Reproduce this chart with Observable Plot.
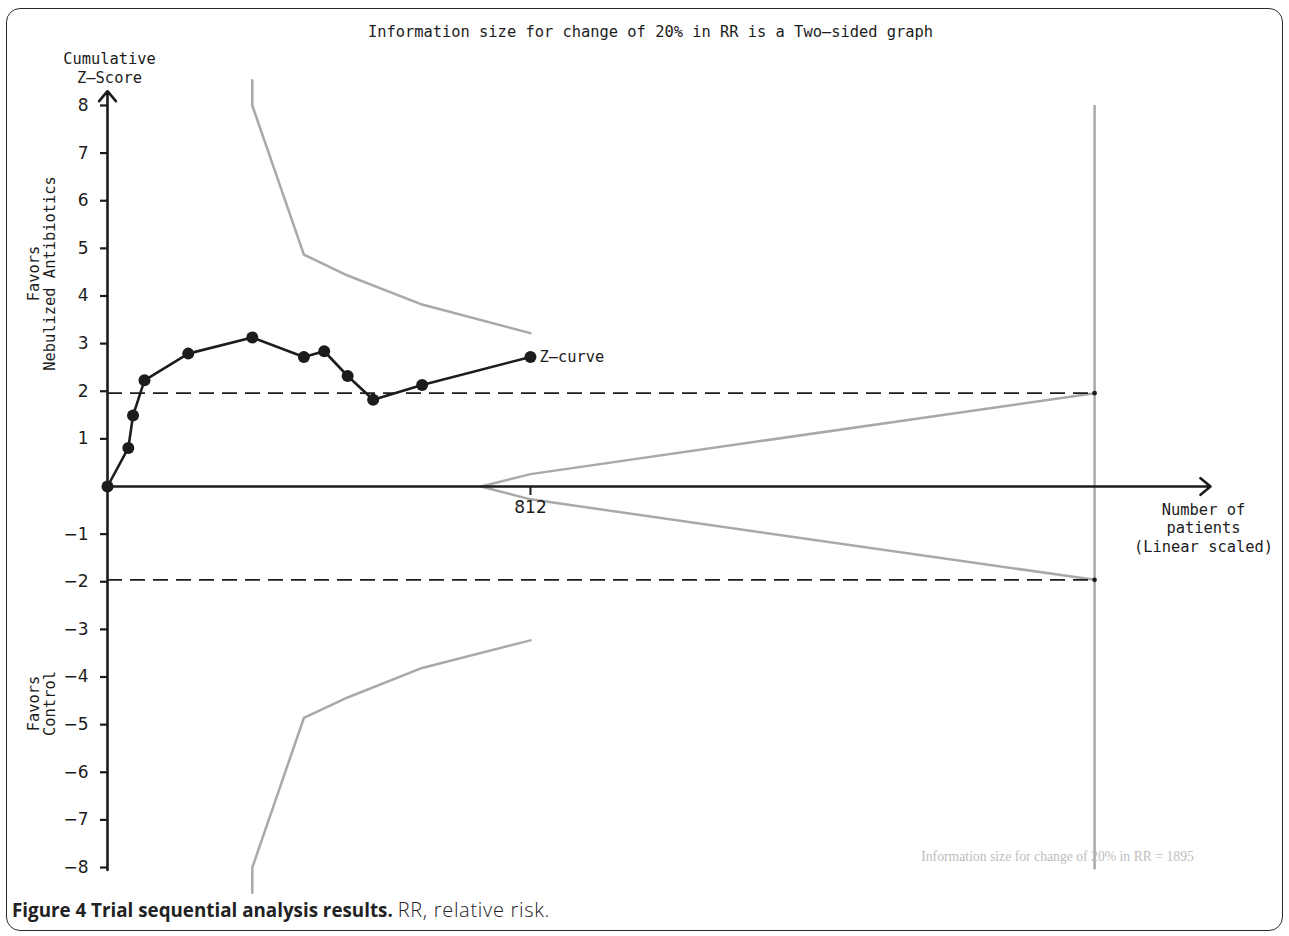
<!DOCTYPE html>
<html>
<head>
<meta charset="utf-8">
<script src="https://cdn.jsdelivr.net/npm/d3@7"></script>
<script src="https://cdn.jsdelivr.net/npm/@observablehq/plot@0.6"></script>
<style>
  html, body { margin: 0; padding: 0; background: #fff; }
  #wrap { position: relative; width: 1289px; height: 936px; overflow: hidden; }
  #border { position: absolute; left: 6px; top: 8px; width: 1277px; height: 923px; border: 1.5px solid #2a2a2a; border-radius: 14px; box-sizing: border-box; pointer-events: none; }
  #chart { position: absolute; left: 0; top: 0; }
  #caption { position: absolute; left: 12px; top: 896px; font-family: "Open Sans", sans-serif; font-size: 18.8px; color: #222; white-space: nowrap; }
  #caption b { font-weight: 700; }
  #caption span { font-weight: 300; font-size: 20px; letter-spacing: 0.7px; }
</style>
</head>
<body>
<div id="wrap">
  <div id="chart"></div>
  <div id="caption"><b>Figure 4 Trial sequential analysis results.</b> <span>RR, relative risk.</span></div>
  <div id="border"></div>
</div>
<script>
// ---- Data ----
const zPatients = [0, 40, 49, 71, 155, 278, 377, 416, 461, 510, 604, 812];
const zScores   = [0, 0.81, 1.49, 2.23, 2.79, 3.13, 2.72, 2.84, 2.32, 1.82, 2.13, 2.72];

const boundPatients = [278, 278, 377, 461, 604, 812];
const boundUpper    = [8.53, 8, 4.87, 4.43, 3.82, 3.22];
const boundLower    = [-8.53, -8, -4.86, -4.43, -3.81, -3.23];

const futPatients = [717, 812, 1895];
const futUpper    = [0, 0.26, 1.96];
const futLower    = [0, -0.27, -1.96];

const informationSize = 1895;
const conventional = [1.96, -1.96];
const yTicks = [-8, -7, -6, -5, -4, -3, -2, -1, 1, 2, 3, 4, 5, 6, 7, 8];
const xTicks = [812];

const zCurve = zPatients.map((x, i) => ({x, z: zScores[i]}));
const upper = boundPatients.map((x, i) => ({x, z: boundUpper[i]}));
const lower = boundPatients.map((x, i) => ({x, z: boundLower[i]}));
const futU = futPatients.map((x, i) => ({x, z: futUpper[i]}));
const futL = futPatients.map((x, i) => ({x, z: futLower[i]}));

const mono = "DejaVu Sans Mono, monospace";
const sans = "DejaVu Sans, sans-serif";
const gray = "#a9a9a9";
const ink = "#1c1c1c";

const plot = Plot.plot({
  width: 1289,
  height: 896,
  marginLeft: 107,
  marginRight: 79,
  marginTop: 76.4,
  marginBottom: 0.4,
  style: {fontFamily: sans, fontSize: "17px", color: ink, background: "transparent"},
  x: {domain: [0, 2117.5], axis: null},
  y: {domain: [-8.6, 8.6], axis: null},
  marks: [
    // boundaries
    Plot.line(upper, {x: "x", y: "z", stroke: gray, strokeWidth: 2.5}),
    Plot.line(lower, {x: "x", y: "z", stroke: gray, strokeWidth: 2.5}),
    Plot.line(futU, {x: "x", y: "z", stroke: gray, strokeWidth: 2.5}),
    Plot.line(futL, {x: "x", y: "z", stroke: gray, strokeWidth: 2.5}),
    Plot.ruleX([informationSize], {y1: -8.05, y2: 8, stroke: gray, strokeWidth: 2.5}),
    // conventional boundaries
    Plot.ruleY(conventional, {x1: 0, x2: informationSize, stroke: ink, strokeWidth: 1.6, strokeDasharray: "15,8"}),
    Plot.dot(conventional, {x: () => informationSize, y: d => d, r: 2.3, fill: ink, stroke: null}),
    // axes
    Plot.arrow([0], {x1: 0, y1: 0, x2: 2117.5, y2: 0, stroke: ink, strokeWidth: 2.6, headLength: 7.5, headAngle: 80, insetEnd: 0}),
    Plot.arrow([0], {x1: 0, y1: -8.05, x2: 0, y2: 8.3, stroke: ink, strokeWidth: 2.6, headLength: 7.5, headAngle: 80, insetEnd: 0}),
    Plot.axisY({ticks: yTicks, label: null, tickSize: 7, tickPadding: 12, tickFormat: d => d < 0 ? "\u2212" + Math.abs(d) : String(d), fontFamily: sans, fontSize: 17, stroke: ink, strokeWidth: 2.2, fill: ink}),
    Plot.ruleX(xTicks, {y1: 0, y2: 0, insetBottom: -9, stroke: ink, strokeWidth: 2}),
    Plot.text(xTicks, {x: d => d, y: 0, dy: 21, text: d => String(d), fontFamily: sans, fontSize: 17, fill: ink}),
    // Z-curve
    Plot.line(zCurve, {x: "x", y: "z", stroke: ink, strokeWidth: 2.6}),
    Plot.dot(zCurve, {x: "x", y: "z", r: 6, fill: ink, stroke: null}),
    Plot.text(zCurve.slice(-1), {x: "x", y: "z", text: () => "Z\u2013curve", dx: 9, textAnchor: "start", fontFamily: mono, fontSize: 15.4, fill: ink}),
    // annotations
    Plot.text(["Information size for change of 20% in RR is a Two\u2013sided graph"], {frameAnchor: "top-left", dx: 543, dy: -44.4, lineAnchor: "middle", textAnchor: "middle", text: d => d, fontFamily: mono, fontSize: 15.4, fill: ink}),
    Plot.text(["Cumulative\nZ\u2013Score"], {frameAnchor: "top-left", dx: 2, dy: -9.2, lineAnchor: "middle", textAnchor: "middle", lineHeight: 1.2, text: d => d, fontFamily: mono, fontSize: 15.4, fill: ink}),
    Plot.text(["Favors\nNebulized Antibiotics"], {frameAnchor: "top-left", dx: -66, dy: 196.6, rotate: -90, lineAnchor: "middle", textAnchor: "middle", lineHeight: 1.07, text: d => d, fontFamily: mono, fontSize: 15.4, fill: ink}),
    Plot.text(["Favors\nControl"], {frameAnchor: "top-left", dx: -66, dy: 626.6, rotate: -90, lineAnchor: "middle", textAnchor: "middle", lineHeight: 1.07, text: d => d, fontFamily: mono, fontSize: 15.4, fill: ink}),
    Plot.text(["Number of\npatients\n(Linear scaled)"], {frameAnchor: "top-left", dx: 1096, dy: 450.6, lineAnchor: "middle", textAnchor: "middle", lineHeight: 1.2, text: d => d, fontFamily: mono, fontSize: 15.4, fill: ink}),
    Plot.text(["Information size for change of 20% in RR = " + informationSize], {frameAnchor: "top-left", dx: 950, dy: 779.6, lineAnchor: "middle", textAnchor: "middle", text: d => d, fontFamily: "Liberation Serif, serif", fontSize: 13.7, fill: "#bdbdbd"})
  ]
});
document.getElementById("chart").appendChild(plot);
</script>
</body>
</html>
